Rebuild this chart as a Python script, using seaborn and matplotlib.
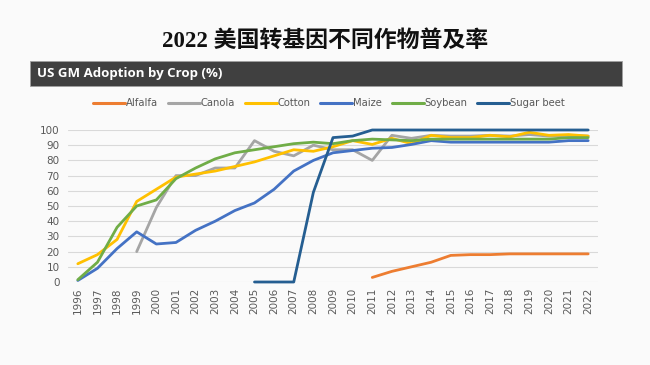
import numpy as np
import pandas as pd
import matplotlib
matplotlib.use("Agg")
import matplotlib.pyplot as plt
import seaborn as sns
from matplotlib.patches import Rectangle
from matplotlib.lines import Line2D

years = list(range(1996, 2023))
N = np.nan
alfalfa = [N]*15 + [3, 7, 10, 13, 17.5, 18, 18, 18.5, 18.5, 18.5, 18.5, 18.5]
canola = [N, N, N, 20, 49, 70, 70, 75, 75, 93, 86, 83, 90, 87, 87, 80, 96.5, 94.5, 96.5, 96, 96, 96.5, 96, 97, 96, 96.5, 96]
cotton = [12, 18, 28, 53, 61, 69, 71, 73, 76, 79, 83, 87, 86, 89, 93, 90.5, 94.5, 91, 96.5, 95, 95, 96.5, 95.5, 98.5, 96.5, 97, 96]
maize = [1, 9, 22, 33, 25, 26, 34, 40, 47, 52, 61, 73, 80, 85, 86.5, 88, 88.5, 90.5, 93, 92, 92, 92, 92, 92, 92, 93, 93]
soybean = [1.5, 13, 36, 50, 54, 68, 75, 81, 85, 87, 89, 91, 92, 91, 93, 94, 93.5, 93, 94, 94, 94, 94, 94, 94, 94, 95, 95]
sugar_beet = [N]*9 + [0, 0, 0, 59, 95, 96, 100, 100, 100, 100, 100, 100, 100, 100, 100, 100, 100, 100]

crops = ["Alfalfa", "Canola", "Cotton", "Maize", "Soybean", "Sugar beet"]
series = [alfalfa, canola, cotton, maize, soybean, sugar_beet]
colors = ["#ED7D31", "#A5A5A5", "#FFC000", "#4472C4", "#70AD47", "#255E91"]

rows = []
for c, s in zip(crops, series):
    for y, v in zip(years, s):
        rows.append({"Year": y, "Adoption": v, "Crop": c})
df = pd.DataFrame(rows)

sns.set_style("white")
bg = "#FAFAFA"
fig = plt.figure(figsize=(6.5, 3.65), dpi=100, facecolor=bg)
ax = fig.add_axes([68/650, 1-282/365, (598-68)/650, (282-130)/365])
ax.set_facecolor(bg)

sns.lineplot(data=df, x="Year", y="Adoption", hue="Crop", hue_order=crops,
             palette=dict(zip(crops, colors)), linewidth=2.0, ax=ax,
             legend=False, clip_on=False)

ax.set_xlim(1995.5, 2022.5)
ax.set_ylim(0, 100)
ax.set_yticks(range(0, 101, 10))
ax.set_xticks(years)
ax.set_xticklabels([str(y) for y in years], rotation=90)
ax.grid(axis="y", color="#D9D9D9", linewidth=0.8)
ax.set_axisbelow(True)
for sp in ax.spines.values():
    sp.set_visible(False)
ax.tick_params(axis="both", colors="#595959", labelsize=7.5, length=0, pad=4)
ax.tick_params(axis="y", pad=6)
ax.set_xlabel("")
ax.set_ylabel("")

# legend
handles = [Line2D([0], [0], color=c, lw=2.2) for c in colors]
leg = fig.legend(handles, crops, loc="center", bbox_to_anchor=(329/650, 1-103/365),
                 ncol=6, frameon=False, handlelength=3.2, handletextpad=0.1,
                 columnspacing=0.95, fontsize=7.2)
for t in leg.get_texts():
    t.set_color("#595959")

# title
fig.text(0.5, 1-41/365, "2022 美国转基因不同作物普及率", ha="center", va="center",
         fontsize=16.5, fontweight="bold",
         family=["Liberation Serif", "Noto Sans CJK SC"], color="#111111")

# dark header bar
fig.patches.append(Rectangle((30/650, 1-86/365), (622-30)/650, 25/365,
                             transform=fig.transFigure, facecolor="#404040",
                             edgecolor="#A0A0A0", linewidth=0.6))
fig.text(37/650, 1-74/365, "US GM Adoption by Crop (%)", ha="left", va="center",
         fontsize=9.5, fontweight="bold", color="white", family="Open Sans")

fig.savefig("out.png", dpi=100, facecolor=bg)
